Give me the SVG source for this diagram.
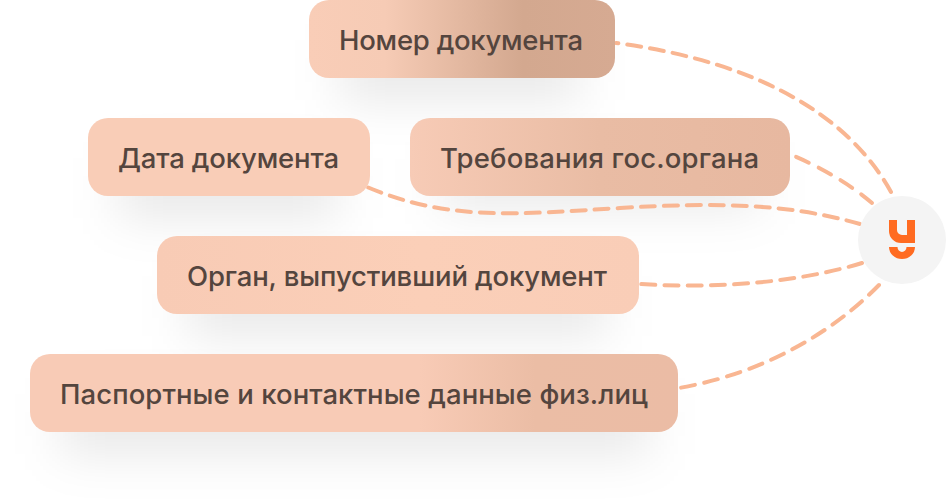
<svg xmlns="http://www.w3.org/2000/svg" width="946" height="502" viewBox="0 0 946 502">
<style>
.n{font:500 27.500px "Inter","Roboto","Noto Sans",sans-serif;fill:#54453e;text-anchor:start}
.c{fill:none;stroke:#f9b692;stroke-width:4;stroke-dasharray:14 9;stroke-linecap:round}
.s{fill:#000;fill-opacity:.09;filter:url(#b)}
</style>
<defs>
<filter id="b" x="-30%" y="-120%" width="160%" height="340%"><feGaussianBlur stdDeviation="24"/></filter>
<linearGradient id="g1" x1="0" x2="1" y1="0" y2="0"><stop offset="0" stop-color="#f9cdb7"/><stop offset=".25" stop-color="#f6cbb5"/><stop offset=".7" stop-color="#d3a88f"/><stop offset="1" stop-color="#d6aa92"/></linearGradient>
<linearGradient id="g2" x1="0" x2="1" y1="0" y2="0"><stop offset="0" stop-color="#f7cbb6"/><stop offset=".5" stop-color="#e9bca4"/><stop offset="1" stop-color="#e7b8a0"/></linearGradient>
<linearGradient id="g3" x1="0" x2="1" y1="0" y2="0"><stop offset="0" stop-color="#f9cdb7"/><stop offset="1" stop-color="#f9cdb7"/></linearGradient>
<linearGradient id="g4" x1="0" x2="1" y1="0" y2="0"><stop offset="0" stop-color="#f8cbb5"/><stop offset=".55" stop-color="#fbcfb8"/><stop offset="1" stop-color="#f9cdb7"/></linearGradient>
<linearGradient id="g5" x1="0" x2="1" y1="0" y2="0"><stop offset="0" stop-color="#f8cbb6"/><stop offset=".6" stop-color="#f8cbb6"/><stop offset=".78" stop-color="#ebbda5"/><stop offset="1" stop-color="#ebbca5"/></linearGradient>
</defs>
<g id="shadows">
<rect class="s" x="340" y="40" width="240" height="60"/>
<rect class="s" x="118" y="158" width="220" height="60"/>
<rect class="s" x="440" y="158" width="320" height="50"/>
<rect class="s" x="187" y="276" width="420" height="60"/>
<rect class="s" x="60" y="394" width="590" height="60"/>
</g>
<g id="connectors">
<path class="c" d="M891 192C840 100 730 58 616 43"/>
<path class="c" stroke-dasharray="14 11" style="stroke-dasharray:14 11" d="M872 203C850 184 820 167 794 156"/>
<path class="c" d="M860 224C790 204 720 202 620 208C520 214 450 222 367 187"/>
<path class="c" style="stroke-dasharray:14 9.200" d="M862 263C800 282 720 289 640 284"/>
<path class="c" style="stroke-dasharray:14 9.600" d="M879 285C830 335 760 374 679 388"/>
</g>
<g id="node-number"><rect x="309" y="0" width="306" height="78" rx="20" fill="url(#g1)"/><text class="n" x="339" y="50" textLength="244">Номер документа</text></g>
<g id="node-date"><rect x="88" y="118" width="282" height="78" rx="20" fill="url(#g3)"/><text class="n" x="118" y="168" textLength="221">Дата документа</text></g>
<g id="node-requirements"><rect x="410" y="118" width="380" height="78" rx="20" fill="url(#g2)"/><text class="n" x="440" y="168" textLength="319">Требования гос.органа</text></g>
<g id="node-authority"><rect x="157" y="236" width="482" height="78" rx="20" fill="url(#g4)"/><text class="n" x="187" y="286" textLength="420">Орган, выпустивший документ</text></g>
<g id="node-passport"><rect x="30" y="354" width="648" height="78" rx="20" fill="url(#g5)"/><text class="n" x="60" y="404" textLength="588">Паспортные и контактные данные физ.лиц</text></g>
<g id="node-logo">
<circle cx="902" cy="240" r="44" fill="#f4f4f4"/>
<path d="M889 220h8v10a5 5 0 0 0 5 5h5v-15h8v23h-14a12 12 0 0 1-12-12z" fill="#ff6b21"/>
<path d="M889 247h8.500a4.500 5 0 0 0 9 0h8.500a13 12 0 0 1-26 0z" fill="#ff6b21"/>
</g>
</svg>
